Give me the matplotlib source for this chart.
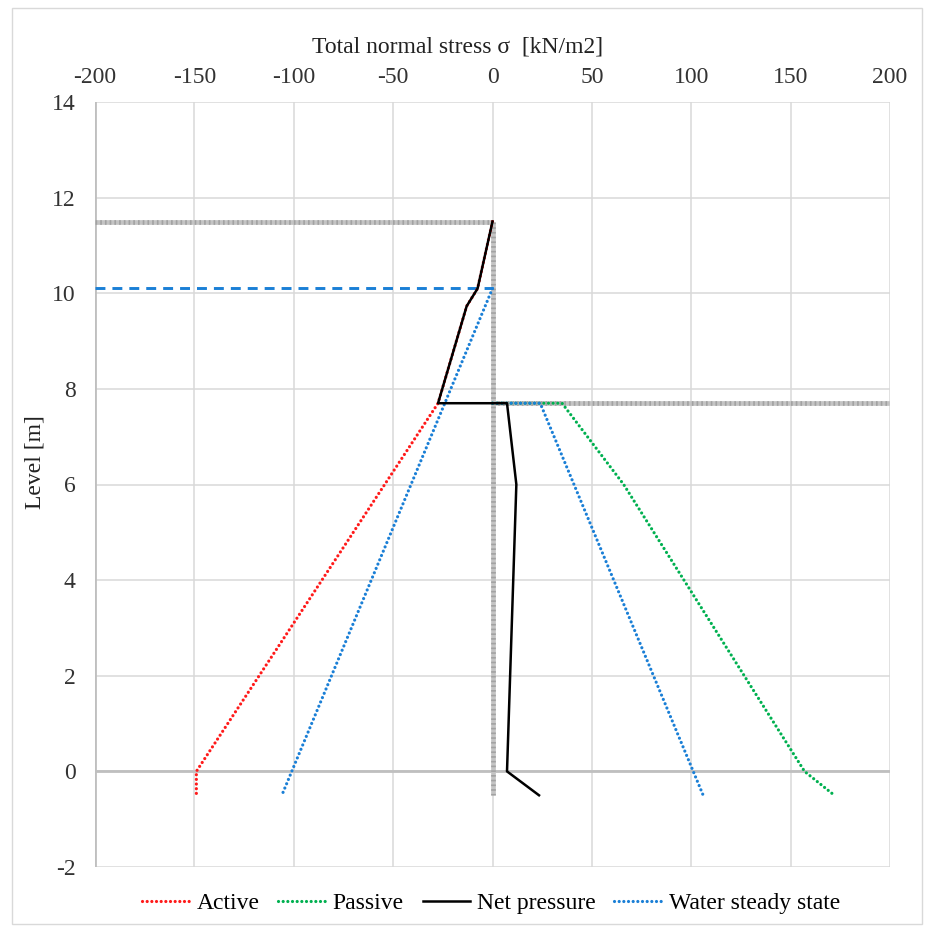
import matplotlib
matplotlib.use("Agg")
import matplotlib.pyplot as plt
from matplotlib.patches import Rectangle

plt.rcParams['font.family'] = ['Liberation Serif', 'DejaVu Serif']
plt.rcParams['axes.unicode_minus'] = False

# Earth pressure diagram data: stress [kN/m2] vs level [m]
active_sigma = [0, -7.5, -13, -27.4, -149, -149]
active_level = [11.5, 10.1, 9.73, 7.7, 0, -0.5]

passive_sigma = [0, 35, 66, 157, 172]
passive_level = [7.7, 7.7, 6, 0, -0.5]

net_sigma = [0, -7.5, -13, -27.4, 7.3, 12, 7.3, 23.4]
net_level = [11.5, 10.1, 9.73, 7.7, 7.7, 6, 0, -0.5]

water_left_sigma = [0, -106]
water_left_level = [10.1, -0.5]
water_right_sigma = [0, 24, 106]
water_right_level = [7.7, 7.7, -0.5]

# Ground surfaces, wall and water table
ground_left_sigma = [-200, 0]
ground_left_level = [11.5, 11.5]
ground_right_sigma = [0, 200]
ground_right_level = [7.7, 7.7]
wall_sigma = [0, 0]
wall_level = [11.5, -0.5]
water_table_sigma = [-200, 0]
water_table_level = [10.1, 10.1]

x_ticks = [-200, -150, -100, -50, 0, 50, 100, 150, 200]
y_ticks = [-2, 0, 2, 4, 6, 8, 10, 12, 14]

FS = 17
W, H = 934, 932
fig = plt.figure(figsize=(W / 100, H / 100), dpi=100)
ax = fig.add_axes([95 / W, 1 - 867 / H, (890 - 95) / W, (867 - 102) / H])

ax.set_xlim(-200, 200)
ax.set_ylim(-2, 14)
ax.set_xticks(x_ticks)
ax.set_yticks(y_ticks)
ax.grid(True, color='#d9d9d9', linewidth=1.1, zorder=0)
ax.set_axisbelow(True)
for s in ax.spines.values():
    s.set_visible(False)
ax.axvline(-200, color='#bfbfbf', linewidth=2.0, zorder=1)
ax.axhline(0, color='#bfbfbf', linewidth=2.0, zorder=1)

ax.xaxis.tick_top()
ax.xaxis.set_label_position('top')
ax.tick_params(axis='both', length=0, labelsize=FS, colors='#333333')
ax.tick_params(axis='x', pad=10)
ax.tick_params(axis='y', pad=14)
ax.set_xlabel('Total normal stress σ  [kN/m2]', fontsize=FS, color='#222222')
ax.xaxis.set_label_coords((458 - 95) / 795, 1 + 50 / 765)
ax.set_ylabel('Level [m]', fontsize=FS, color='#222222')
ax.yaxis.set_label_coords((46 - 95) / 795, (867 - 462) / 765)


def textured(xs, ys):
    ax.plot(xs, ys, color='#c4c4c4', linewidth=3.4, solid_capstyle='butt', zorder=2)
    ax.plot(xs, ys, color='#a2a2a2', linewidth=3.4, linestyle=(0, (0.35, 0.65)),
            dash_capstyle='butt', zorder=2)


textured(ground_left_sigma, ground_left_level)
textured(ground_right_sigma, ground_right_level)
textured(wall_sigma, wall_level)
ax.plot(water_table_sigma, water_table_level, color='#1a7fd6', linewidth=2.1,
        linestyle=(0, (3.4, 2.4)), zorder=3)

dot = dict(linewidth=2.3, linestyle=(0, (0.01, 1.45)), dash_capstyle='round', zorder=4)
ax.plot(active_sigma, active_level, color='#ff1a1a', label='Active', **dot)
ax.plot(passive_sigma, passive_level, color='#00b050', label='Passive', **dot)
ax.plot(water_left_sigma, water_left_level, color='#1a7fd6', **dot)
ax.plot(water_right_sigma, water_right_level, color='#1a7fd6', **dot)
ax.plot(net_sigma, net_level, color='black', linewidth=1.8, label='Net pressure', zorder=5)

handles, labels = ax.get_legend_handles_labels()
water_handle, = ax.plot([], [], color='#1a7fd6', label='Water steady state', **dot)
handles.append(water_handle)
labels.append('Water steady state')
fig.legend(handles, labels,
           loc='center', bbox_to_anchor=(491 / W, 1 - 903 / H), ncol=4,
           frameon=False, fontsize=FS, handlelength=2.0, handletextpad=0.3,
           columnspacing=0.8)

fig.patches.append(Rectangle((12 / W, 8 / H), (922 - 12) / W, (924 - 8) / H,
                             transform=fig.transFigure, fill=False,
                             edgecolor='#d9d9d9', linewidth=1.0))

fig.savefig('out.png', dpi=100)
